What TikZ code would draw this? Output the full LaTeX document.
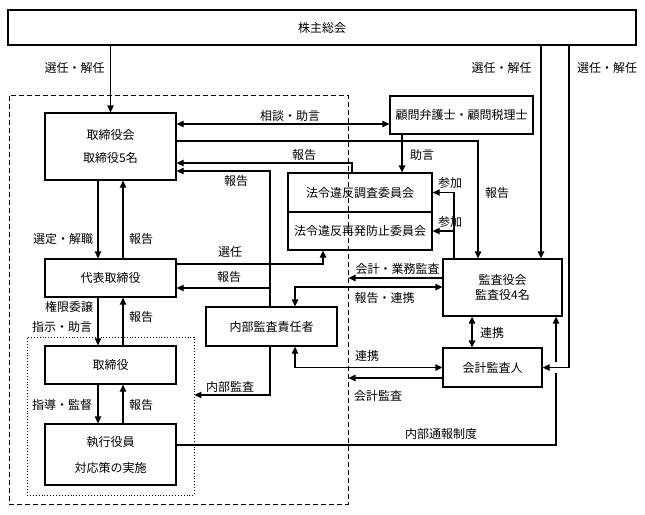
\documentclass[tikz,border=0pt]{standalone}
\usepackage{fontspec}
\setmainfont{Noto Sans CJK JP}
\usetikzlibrary{arrows.meta}
\begin{document}
\begin{tikzpicture}[x=1pt,y=-1pt,
  box/.style={draw,line width=1.3pt,rectangle,inner sep=0pt,font=\fontsize{12}{14}\selectfont,align=center},
  lbl/.style={font=\fontsize{12}{14}\selectfont,inner sep=0pt},
  conn/.style={line width=1.3pt},
  arr/.style={conn,-{Triangle[length=7pt,width=6.5pt]}},
  arr2/.style={conn,{Triangle[length=7pt,width=6.5pt]}-{Triangle[length=7pt,width=6.5pt]}}]
\fill[white] (0,0) rectangle (645,514);
\useasboundingbox (0,0) rectangle (645,514);

% frames
\node[draw,line width=1pt,dash pattern=on 5pt off 3pt,minimum width=339pt,minimum height=409pt,inner sep=0pt] (ctrl) at (178.5,299.5) {};
\node[draw,line width=0.9pt,dotted,minimum width=167pt,minimum height=158pt,inner sep=0pt] (grp) at (110.5,416) {};

% boxes
\node[box,minimum width=628pt,minimum height=35pt] (soukai) at (322,27.5) {株主総会};
\node[box,minimum width=131pt,minimum height=67pt] (torikai) at (110.5,146.5) {取締役会\\[9pt]取締役5名};
\node[box,minimum width=143pt,minimum height=38pt] (komon) at (461.5,115) {顧問弁護士・顧問税理士};
\node[box,minimum width=144pt,minimum height=39pt] (hourei1) at (360,192.5) {法令違反調査委員会};
\node[box,minimum width=144pt,minimum height=38pt] (hourei2) at (360,231) {法令違反再発防止委員会};
\node[box,minimum width=131pt,minimum height=38pt] (daihyo) at (110.5,278) {代表取締役};
\node[box,minimum width=131pt,minimum height=39pt] (naibu) at (271.5,326.5) {内部監査責任者};
\node[box,minimum width=131pt,minimum height=38pt] (torishimari) at (110.5,365) {取締役};
\node[box,minimum width=131pt,minimum height=61pt] (shikko) at (110.5,454.5) {執行役員\\[12pt]対応策の実施};
\node[box,minimum width=119pt,minimum height=57pt] (kansa) at (502.5,287.5) {監査役会\\[1pt]監査役4名};
\node[box,minimum width=99pt,minimum height=39pt] (kaikei) at (492.5,367.5) {会計監査人};

% helper coordinates
\coordinate (xa) at (98,0);
\coordinate (xb) at (123,0);
\coordinate (x270) at (270,0);
\coordinate (x295) at (295,0);
\coordinate (x323) at (323,0);
\coordinate (x352) at (352,0);
\coordinate (x402) at (402,0);
\coordinate (x454) at (454,0);
\coordinate (x472) at (472,0);
\coordinate (x478) at (478,0);
\coordinate (x541) at (541,0);
\coordinate (x556) at (556,0);
\coordinate (x569) at (569,0);
\coordinate (y124) at (0,124);
\coordinate (y141) at (0,141);
\coordinate (y163) at (0,163);
\coordinate (y171) at (0,171);
\coordinate (y264) at (0,264);
\coordinate (y278) at (0,278);
\coordinate (y287) at (0,287);
\coordinate (y288) at (0,288);
\coordinate (y378) at (0,378);
\coordinate (y395) at (0,395);
\coordinate (y445) at (0,445);
\coordinate (y373) at (0,373);
\coordinate (y362) at (0,362);

% connectors from 株主総会
\draw[arr] (soukai.south -| torikai.north) -- (torikai.north);
\draw[arr] (soukai.south -| x541) -- (kansa.north -| x541);
\draw[arr] (soukai.south -| x569) |- (kaikei.east);

% 取締役会 relations
\draw[arr2] (torikai.east |- y124) -- (komon.west |- y124);
\draw[arr] (torikai.east |- y141) -| (kansa.north -| x478);
\draw[arr] (komon.south -| x402) -- (hourei1.north -| x402);
\draw[arr] (hourei1.north -| x352) |- (torikai.east |- y163);
\draw[arr] (naibu.north -| x270) |- (torikai.east |- y171);
\draw[arr] (x270 |- y288) -- (daihyo.east |- y288);
\draw[arr] (daihyo.east |- y264) -| (hourei2.south -| x323);

% 参加
\draw[arr] (kansa.north -| x454) |- (hourei1.east);
\draw[arr] (x454 |- hourei2.east) -- (hourei2.east);

% 監査役会 relations
\draw[arr] (kansa.west |- y278) -- (ctrl.east |- y278);
\draw[arr2] (kansa.west |- y287) -| (naibu.north -| x295);
\draw[arr2] (kansa.south -| x472) -- (kaikei.north -| x472);
\draw[arr2] (naibu.south -| x295) |- (kaikei.west);
\draw[arr] (kaikei.west |- y378) -- (ctrl.east |- y378);
\draw[arr] (naibu.south -| x270) |- (grp.east |- y395);

% 内部通報制度
\draw[conn] (shikko.east |- y445) -| (x556 |- y373);
\draw[arr] (x556 |- y362) -- (kansa.south -| x556);

% left column
\draw[arr] (torikai.south -| xa) -- (daihyo.north -| xa);
\draw[arr] (daihyo.north -| xb) -- (torikai.south -| xb);
\draw[arr] (daihyo.south -| xa) -- (torishimari.north -| xa);
\draw[arr] (torishimari.north -| xb) -- (daihyo.south -| xb);
\draw[arr] (torishimari.south -| xa) -- (shikko.north -| xa);
\draw[arr] (shikko.north -| xb) -- (torishimari.south -| xb);

% labels
\node[lbl] (l1) at (74.5,67.5) {選任・解任};
\node[lbl] (l2) at (501.5,67.5) {選任・解任};
\node[lbl] (l3) at (607,67.5) {選任・解任};
\node[lbl] (l4) at (290,116) {相談・助言};
\node[lbl] (l5) at (304,155) {報告};
\node[lbl] (l6) at (422,155) {助言};
\node[lbl] (l7) at (236,181) {報告};
\node[lbl] (l8) at (497,193) {報告};
\node[lbl] (l9) at (450,183) {参加};
\node[lbl] (l10) at (450,222) {参加};
\node[lbl] (l11) at (63,239) {選定・解職};
\node[lbl] (l12) at (141,239) {報告};
\node[lbl] (l13) at (230,252) {選任};
\node[lbl] (l14) at (229,277) {報告};
\node[lbl] (l15) at (397.5,269) {会計・業務監査};
\node[lbl] (l16) at (384.5,298) {報告・連携};
\node[lbl] (l17) at (69,307) {権限委譲};
\node[lbl] (l18) at (62,327) {指示・助言};
\node[lbl] (l19) at (141,317) {報告};
\node[lbl] (l20) at (492,333) {連携};
\node[lbl] (l21) at (367,356) {連携};
\node[lbl] (l22) at (230,387) {内部監査};
\node[lbl] (l23) at (378,396) {会計監査};
\node[lbl] (l24) at (62,405) {指導・監督};
\node[lbl] (l25) at (141,405) {報告};
\node[lbl] (l26) at (441,434) {内部通報制度};
\end{tikzpicture}
\end{document}
